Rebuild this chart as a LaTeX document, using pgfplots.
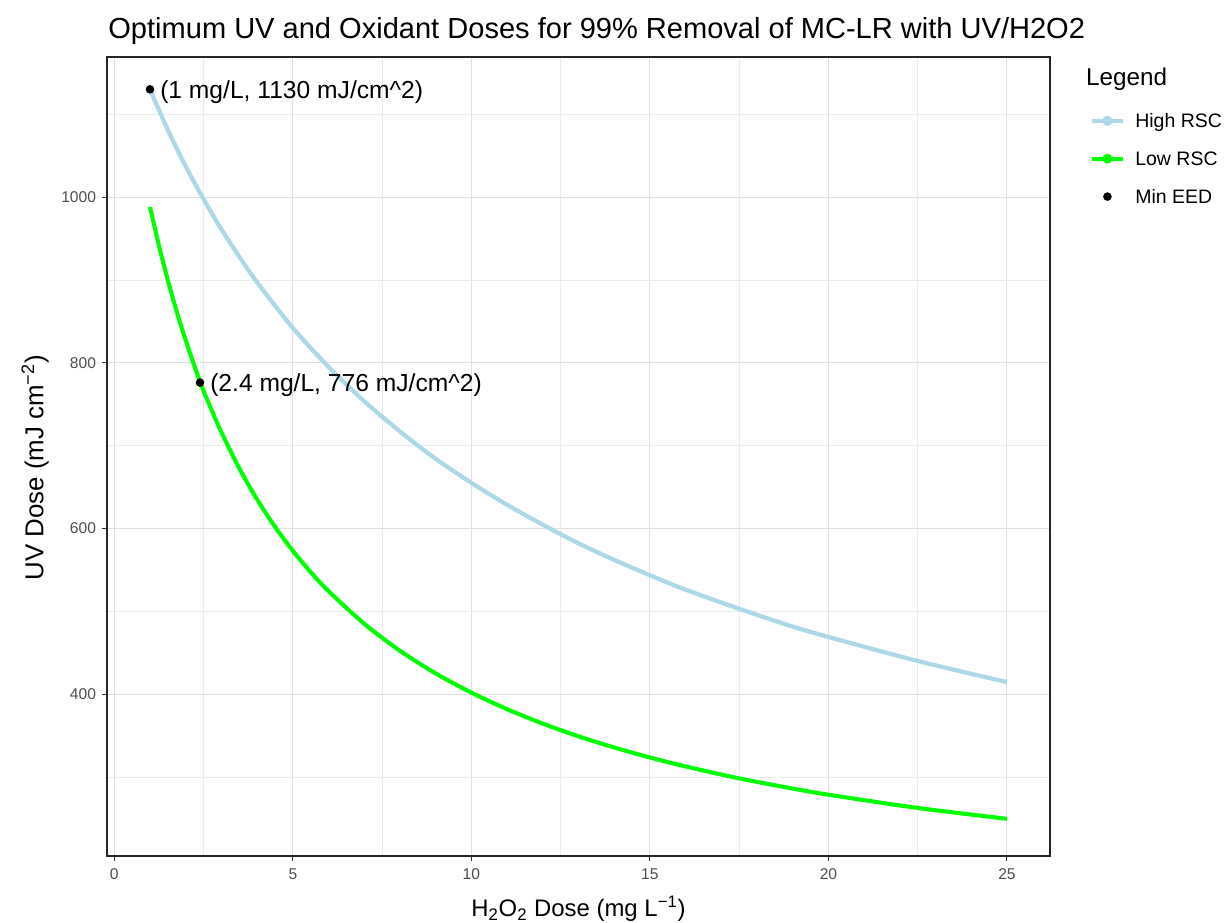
\documentclass[border=0pt]{standalone}
\usepackage{fontspec}
\setmainfont{Liberation Sans}
\usepackage{pgfplots}
\pgfplotsset{compat=1.18}
\definecolor{hiblue}{RGB}{173,216,230}
\definecolor{lowgreen}{RGB}{0,255,0}
\definecolor{gridc}{RGB}{235,235,235}
\definecolor{gridmaj}{RGB}{224,224,224}
\definecolor{ticklab}{RGB}{77,77,77}
\begin{document}
\begin{tikzpicture}
\useasboundingbox (-60.5pt,-38pt) rectangle (634.5pt,483.1pt);
\begin{axis}[
  at={(0,0)}, anchor=south west,
  scale only axis, width=532.2pt, height=450.9pt,
  xmin=-0.2, xmax=26.2, ymin=205, ymax=1169,
  xtick={0,5,10,15,20,25}, ytick={400,600,800,1000},
  minor xtick={2.5,7.5,12.5,17.5,22.5},
  minor ytick={300,500,700,900,1100},
  grid=both,
  major grid style={line width=0.55pt, color=gridmaj},
  minor grid style={line width=0.35pt, color=gridc},
  axis line style={line width=1pt, black!85},
  tick align=outside, xtick pos=bottom, ytick pos=left,
  major tick length=2.8pt, minor tick length=0pt,
  tick style={line width=0.55pt, color=black!80},
  ticklabel style={font=\fontsize{8.8}{10}\selectfont, color=ticklab},
  xticklabel style={yshift=-1pt},
  /pgf/number format/assume math mode=true,
  /pgf/number format/set thousands separator={},
  clip=false,
  legend style={at={(rel axis cs:1,1)}, anchor=north west,
    xshift=22.6pt, yshift=-28.5pt, draw=none, fill=none,
    inner sep=0pt, row sep=6.8pt,
    font=\fontsize{11}{13}\selectfont,
    /tikz/every odd column/.append style={column sep=4pt}},
  legend cell align=left,
]
\addplot[hiblue, line width=2.4pt, smooth, forget plot] coordinates {
 (1,1129.7) (1.5,1081) (2,1037) (2.5,997.5) (3,961) (3.5,928) (4,897)
 (5,842) (6,795) (7,753.5) (8,717) (9,684) (10,655) (11,628.5)
 (12,604.5) (13,582) (14,562) (15,543.5) (16,526) (17.5,503)
 (19,481.5) (20,469) (22.5,440) (25,414.5)
};
\addplot[lowgreen, line width=2.3pt, smooth, forget plot] coordinates {
 (1,988) (1.25,941.4) (1.5,899.4) (1.75,861.5) (2,827) (2.4,777)
 (2.75,740.4) (3,716) (3.5,672.6) (4,634.9) (4.5,602) (5,573)
 (5.5,547.3) (6,524.3) (7,484.9) (8,452.3) (9,425) (10,401.8)
 (11,381.8) (12,364.4) (13,349.1) (14,335.6) (15,323.5) (16,312.7)
 (17.5,298.3) (19,286) (20,278.6) (22.5,262.6) (25,249.5)
};
\addlegendimage{hiblue, line width=2.4pt, mark=*, mark size=1.6pt}
\addlegendentry{\strut High RSC}
\addlegendimage{lowgreen, line width=2.3pt, mark=*, mark size=1.6pt}
\addlegendentry{\strut Low RSC}
\addplot[only marks, mark=*, mark size=2.2pt, black] coordinates {(1,1130) (2.4,776)};
\addlegendentry{\strut Min EED}
\node[anchor=west, inner sep=0pt, font=\fontsize{13.9}{16}\selectfont, yshift=-1.5pt, xshift=5.6pt] at (axis cs:1,1130) {(1 mg/L, 1130 mJ/cm\textasciicircum 2)};
\node[anchor=west, inner sep=0pt, font=\fontsize{13.9}{16}\selectfont, yshift=-1.5pt, xshift=5.6pt] at (axis cs:2.4,776) {(2.4 mg/L, 776 mJ/cm\textasciicircum 2)};
\end{axis}
\node[anchor=base west, inner sep=0pt, font=\fontsize{16.4}{19}\selectfont] at (0.5pt,461.6pt) {Optimum UV and Oxidant Doses for 99\% Removal of MC-LR with UV/H2O2};
\node[inner sep=0pt, font=\fontsize{13.5}{16}\selectfont] at (266.1pt,-30pt) {H\textsubscript{2}O\textsubscript{2} Dose (mg L\textsuperscript{−1})};
\node[inner sep=0pt, rotate=90, font=\fontsize{14.6}{17}\selectfont] at (-40.7pt,219pt) {UV Dose (mJ cm\textsuperscript{−2})};
\node[anchor=west, inner sep=0pt, font=\fontsize{13.7}{16}\selectfont] at (552.5pt,438.6pt) {Legend};
\end{tikzpicture}
\end{document}
